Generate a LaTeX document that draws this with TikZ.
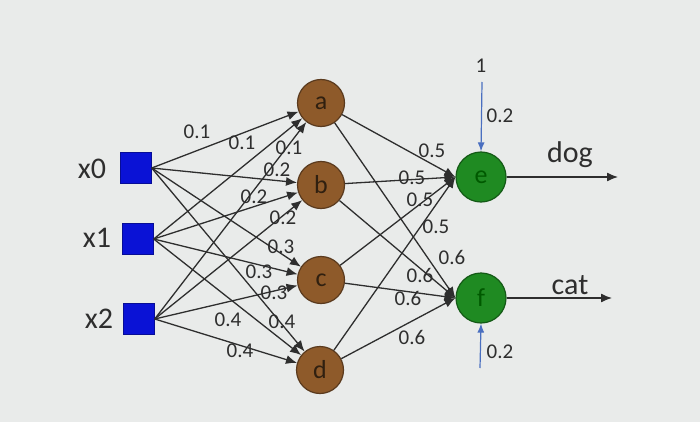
\documentclass[tikz,border=0pt]{standalone}
\usepackage{fontspec}
\setmainfont{Carlito}
\usetikzlibrary{arrows.meta}
\definecolor{bg}{HTML}{E9EBEA}
\definecolor{sqblue}{HTML}{0A12D6}
\definecolor{brownfill}{HTML}{8E5A2A}
\definecolor{brownline}{HTML}{5A3A1E}
\definecolor{greenfill}{HTML}{1F8A22}
\definecolor{greenline}{HTML}{145A16}
\definecolor{ink}{HTML}{2E2E2E}
\definecolor{biasblue}{HTML}{4A6FC0}
\tikzset{
  inbox/.style={draw=sqblue!70!black, fill=sqblue, minimum size=31pt, inner sep=0pt},
  hid/.style={circle, draw=brownline, line width=1.2pt, fill=brownfill, minimum size=47pt, inner sep=0pt, font=\fontsize{26}{28}\selectfont, text=black!75!brown},
  outn/.style={circle, draw=greenline, line width=1.2pt, fill=greenfill, minimum size=50pt, inner sep=0pt, font=\fontsize{26}{28}\selectfont, text=black!65!green},
  conn/.style={draw=ink, line width=1.3pt, -{Latex[length=11pt,width=9pt]}},
  bias/.style={draw=biasblue, line width=1.2pt, -{Latex[length=9pt,width=7pt]}},
  wlab/.style={font=\fontsize{21}{23}\selectfont, text=ink, inner sep=0pt},
  biglab/.style={font=\fontsize{30}{32}\selectfont, text=ink, inner sep=0pt}
}
\begin{document}
\begin{tikzpicture}[x=1pt,y=-1pt]
\fill[bg] (0,0) rectangle (700,422);
\useasboundingbox (0,0) rectangle (700,422);

\node[inbox] (x0) at (136,168) {};
\node[inbox] (x1) at (138,239) {};
\node[inbox] (x2) at (139,319) {};
\node[biglab] (lx0) at (92,169) {x0};
\node[biglab] (lx1) at (97,238) {x1};
\node[biglab] (lx2) at (99,319) {x2};

\node[hid] (a) at (321,103) {a};
\node[hid] (b) at (321,185) {b};
\node[hid] (c) at (321,280) {c};
\node[hid] (d) at (320,370) {d};

\node[outn] (e) at (481,177) {e};
\node[outn] (f) at (481,298) {f};

\foreach \i in {x0,x1,x2}{
  \foreach \h in {a,b,c,d}{
    \draw[conn] (\i.east) -- (\h);
  }
}
\foreach \h in {a,b,c,d}{
  \draw[conn] (\h) -- (e.west);
  \draw[conn] (\h) -- (f.west);
}

\coordinate (be) at (482,82);
\coordinate (bf) at (480,368);
\draw[bias] (be) -- (e.north);
\draw[bias] (bf) -- (f.south);
\node[wlab] (one) at (481,66) {1};
\node[wlab] (wbe) at (500,116) {0.2};
\node[wlab] (wbf) at (500,352) {0.2};

\coordinate (oe) at (618,177);
\coordinate (of) at (612,298);
\draw[conn] (e.east) -- (oe);
\draw[conn] (f.east) -- (of);
\node[biglab] (dog) at (570,155) {dog};
\node[biglab] (cat) at (570,285) {cat};

\node[wlab] (w1) at (197,132) {0.1};
\node[wlab] (w2) at (242,143) {0.1};
\node[wlab] (w3) at (289,148) {0.1};
\node[wlab] (w4) at (277,170) {0.2};
\node[wlab] (w5) at (254,197) {0.2};
\node[wlab] (w6) at (283,218) {0.2};
\node[wlab] (w7) at (281,247) {0.3};
\node[wlab] (w8) at (259,272) {0.3};
\node[wlab] (w9) at (274,293) {0.3};
\node[wlab] (w10) at (228,320) {0.4};
\node[wlab] (w11) at (282,322) {0.4};
\node[wlab] (w12) at (240,351) {0.4};

\node[wlab] (v1) at (432,151) {0.5};
\node[wlab] (v2) at (412,178) {0.5};
\node[wlab] (v3) at (420,200) {0.5};
\node[wlab] (v4) at (436,227) {0.5};
\node[wlab] (v5) at (452,257) {0.6};
\node[wlab] (v6) at (420,275) {0.6};
\node[wlab] (v7) at (408,298) {0.6};
\node[wlab] (v8) at (412,337) {0.6};
\end{tikzpicture}
\end{document}
